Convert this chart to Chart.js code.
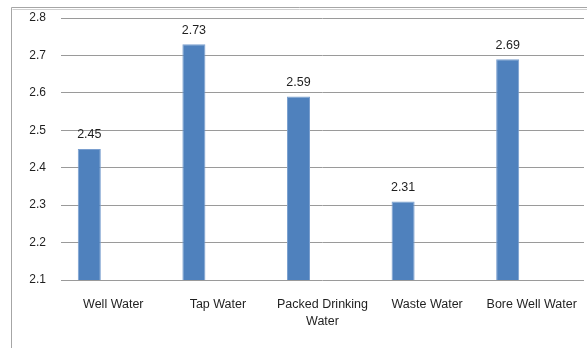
<!DOCTYPE html>
<html>
<head>
<meta charset="utf-8">
<script src="https://cdn.jsdelivr.net/npm/chart.js@4/dist/chart.umd.min.js"></script>
<style>
  html, body { margin: 0; padding: 0; background: #ffffff; }
  #wrap { position: relative; width: 587px; height: 348px; }
</style>
</head>
<body>
<div id="wrap"><canvas id="c" width="587" height="348"></canvas></div>
<script>
// Water sources and their measured values
const categories = ["Well Water", "Tap Water", ["Packed Drinking", "Water"], "Waste Water", "Bore Well Water"];
const values = [2.45, 2.73, 2.59, 2.31, 2.69];
const emptySeries = [null, null, null, null, null];
const yTicks = [2.1, 2.2, 2.3, 2.4, 2.5, 2.6, 2.7, 2.8];

const FONT = "'Liberation Sans', Arial, sans-serif";
const TEXT = "#1f1f1f";

// Outer frame lines around the chart
const framePlugin = {
  id: "frame",
  beforeDraw(chart) {
    const ctx = chart.ctx;
    ctx.save();
    ctx.strokeStyle = "#a6a6a6";
    ctx.lineWidth = 1;
    ctx.beginPath();
    ctx.moveTo(11.5, 348);
    ctx.lineTo(11.5, 7.5);
    ctx.lineTo(587, 7.5);
    ctx.stroke();
    ctx.strokeStyle = "#d0d0d0";
    ctx.beginPath();
    ctx.moveTo(12.5, 9.5);
    ctx.lineTo(587, 9.5);
    ctx.stroke();
    ctx.restore();
  }
};

// Value labels above each bar
const valueLabels = {
  id: "valueLabels",
  afterDatasetsDraw(chart) {
    const ctx = chart.ctx;
    const meta = chart.getDatasetMeta(0);
    ctx.save();
    ctx.font = "12.5px " + FONT;
    ctx.fillStyle = TEXT;
    ctx.textAlign = "center";
    ctx.textBaseline = "middle";
    meta.data.forEach((bar, i) => {
      ctx.fillText(values[i].toFixed(2), bar.x, bar.y - 14);
    });
    ctx.restore();
  }
};

new Chart(document.getElementById("c"), {
  type: "bar",
  data: {
    labels: categories,
    datasets: [
      {
        label: "Value",
        data: values,
        backgroundColor: "#4f81bd",
        borderColor: "#7a9fcf",
        borderWidth: 1,
        categoryPercentage: 0.918,
        barPercentage: 0.48
      },
      {
        label: "",
        data: emptySeries,
        backgroundColor: "#c0504d",
        categoryPercentage: 0.918,
        barPercentage: 0.48
      }
    ]
  },
  options: {
    responsive: false,
    animation: false,
    layout: { padding: { top: 18, right: 3, left: 0, bottom: 0 } },
    plugins: {
      legend: { display: false },
      tooltip: { enabled: false }
    },
    scales: {
      x: {
        grid: { display: false, drawTicks: false },
        border: { display: false },
        ticks: {
          color: TEXT,
          font: { family: FONT, size: 12.5, lineHeight: 1.35 },
          padding: 16,
          maxRotation: 0,
          autoSkip: false
        },
        afterFit(scale) {
          scale.height = 68;
          scale.paddingLeft = 0;
          scale.paddingRight = 0;
        }
      },
      y: {
        min: 2.1,
        max: 2.8,
        afterBuildTicks(scale) { scale.ticks = yTicks.map(v => ({ value: v })); },
        grid: { color: "#9a9a9a", drawTicks: false },
        border: { display: false },
        ticks: {
          color: TEXT,
          font: { family: FONT, size: 12 },
          padding: 15,
          callback: v => v.toFixed(1)
        },
        afterFit(scale) {
          scale.width = 61;
          scale.paddingTop = 0;
          scale.paddingBottom = 0;
        }
      }
    }
  },
  plugins: [framePlugin, valueLabels]
});
</script>
</body>
</html>
